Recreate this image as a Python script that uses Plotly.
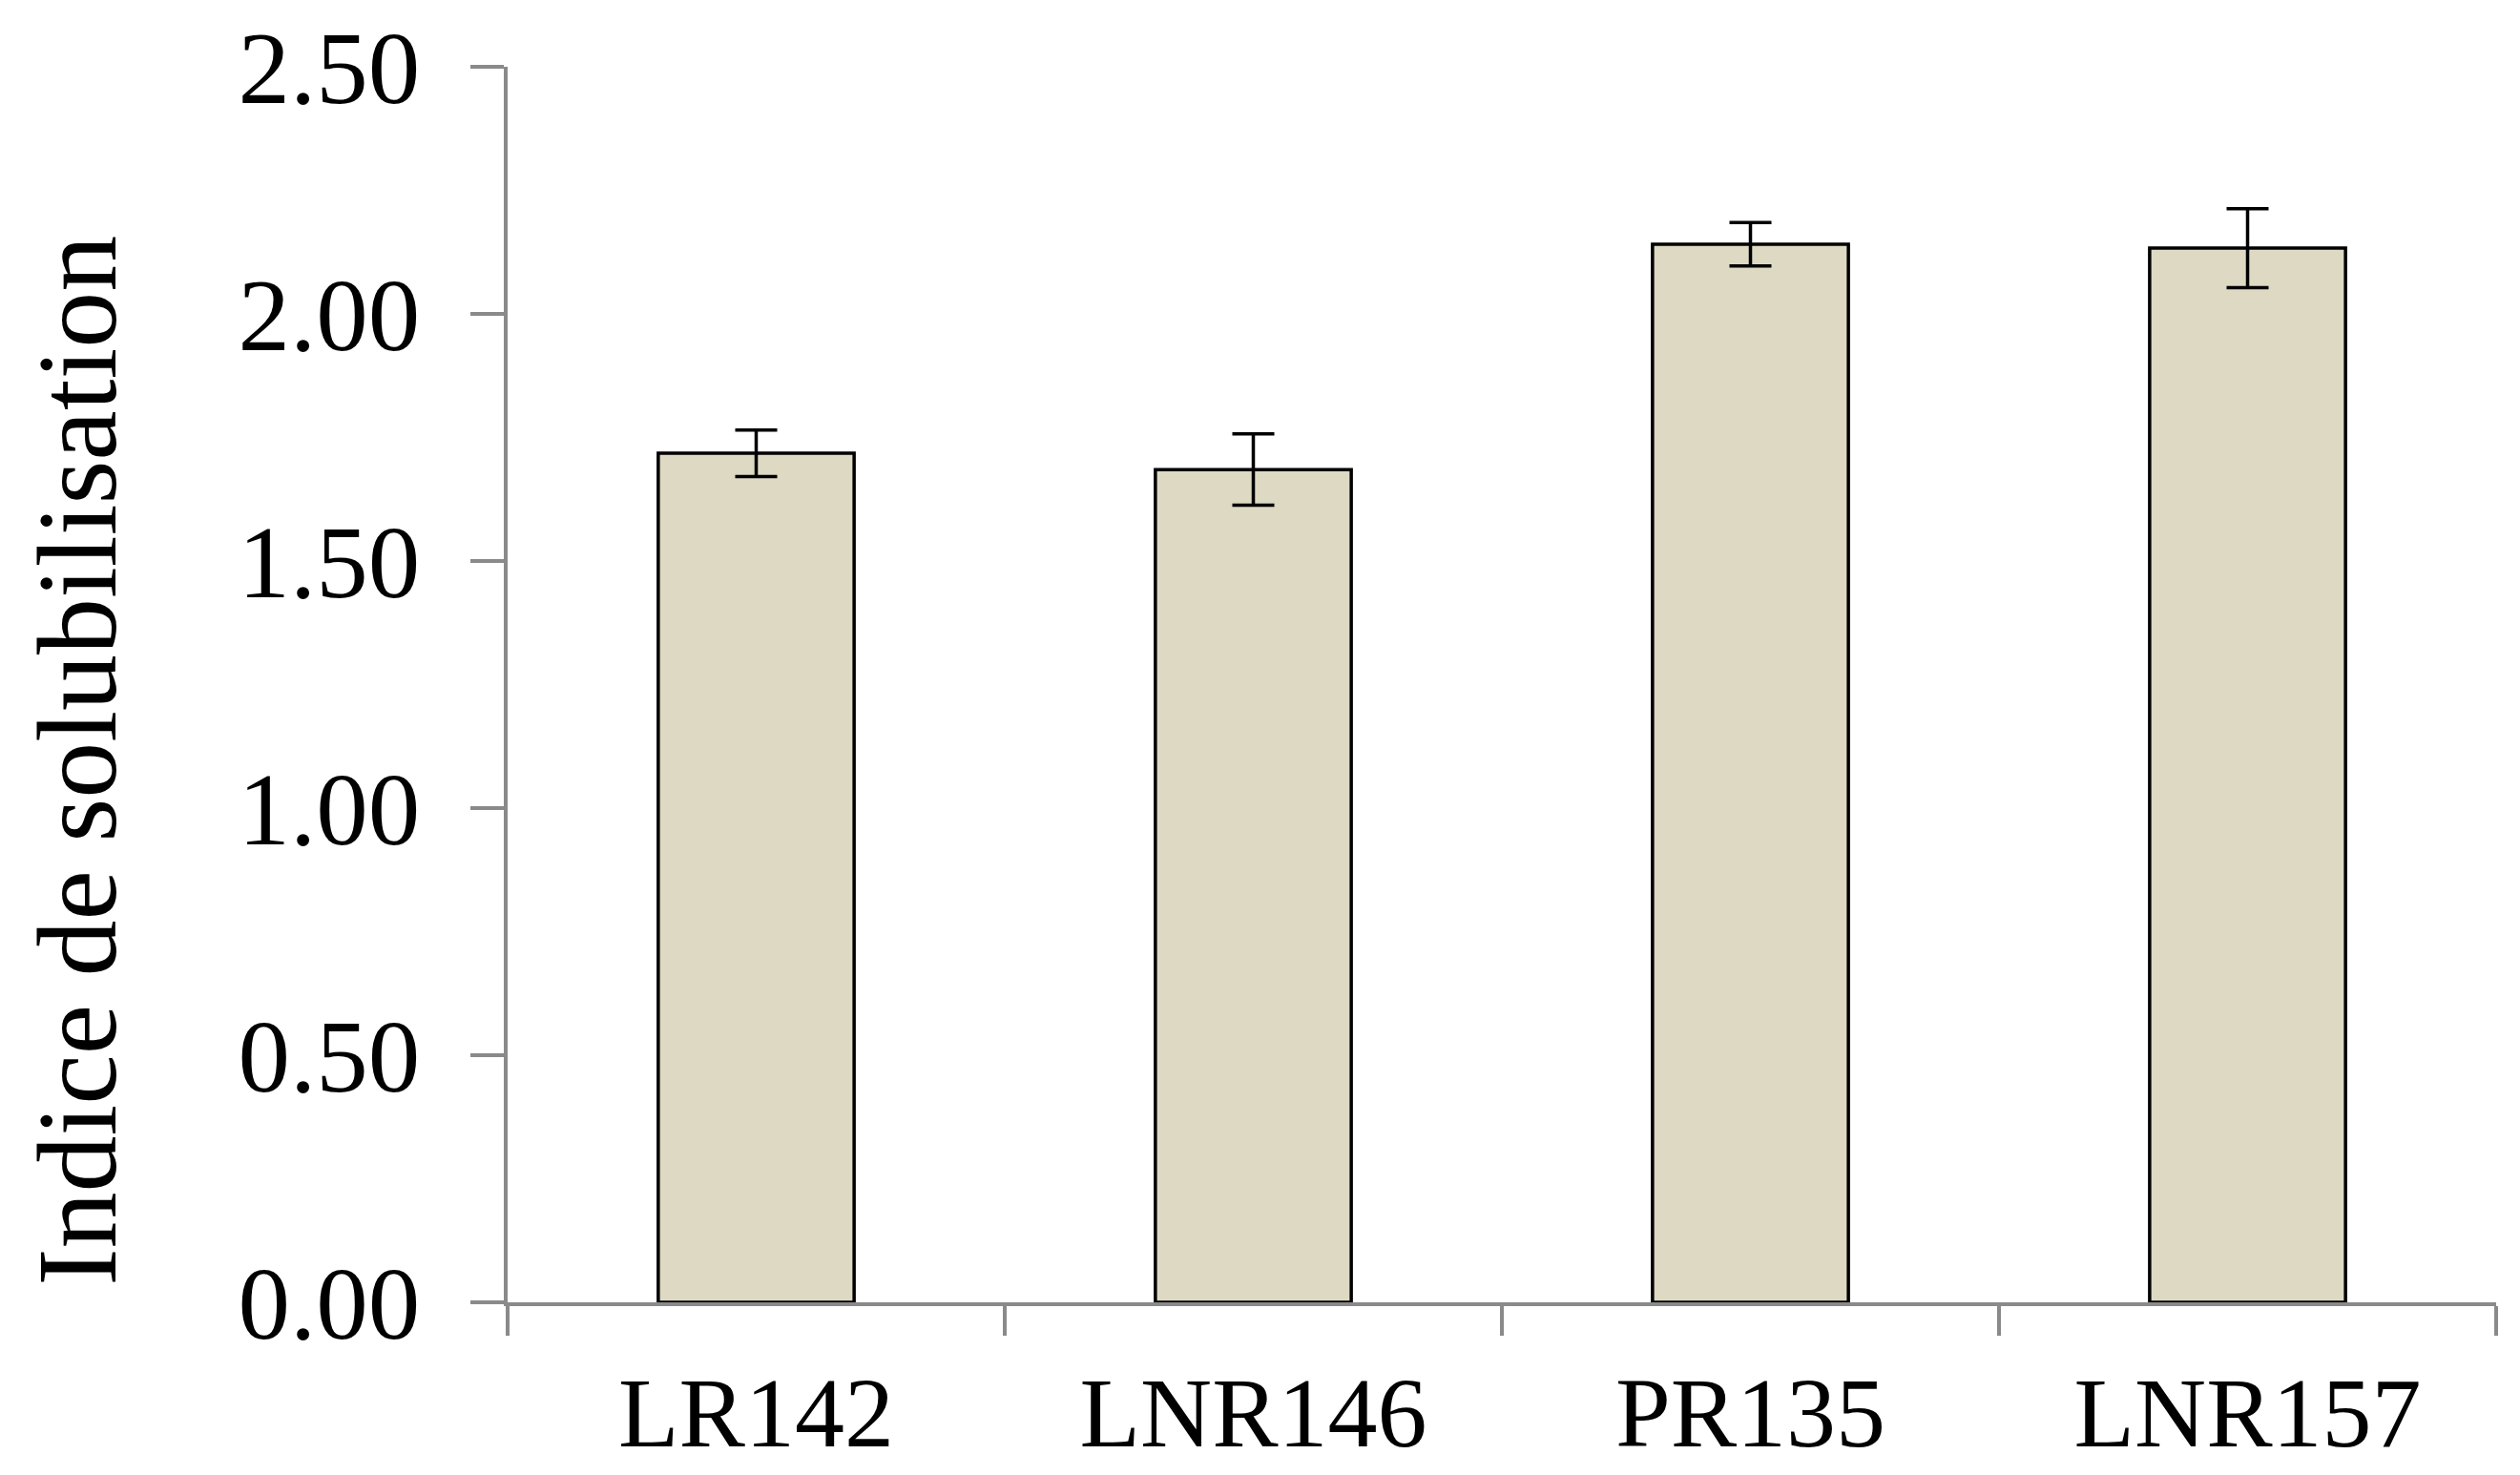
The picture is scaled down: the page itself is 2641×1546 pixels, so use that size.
import plotly.graph_objects as go

# data
souches = ["LR142", "LNR146", "PR135", "LNR157"]
indice = [1.718, 1.685, 2.141, 2.133]
erreur = [0.047, 0.072, 0.044, 0.080]
y_ticks = [0.0, 0.5, 1.0, 1.5, 2.0, 2.5]

fig = go.Figure()
fig.add_trace(go.Bar(
    x=souches, y=indice,
    marker=dict(color="#DDD9C3", line=dict(color="black", width=3.5)),
    error_y=dict(type="data", array=erreur, visible=True,
                 color="black", thickness=3.5, width=22),
))

fig.update_xaxes(
    type="category", tickson="boundaries", automargin=False,
    showline=True, linecolor="#8A8A8A", linewidth=4,
    ticks="outside", ticklen=31, tickwidth=4, tickcolor="#8A8A8A",
    tickfont=dict(family="Liberation Serif", size=104, color="black"),
    ticklabelstandoff=22,
    showgrid=False, zeroline=False,
)
fig.update_yaxes(
    range=[0, 2.5], tickvals=y_ticks, tickformat=".2f", automargin=False,
    showline=True, linecolor="#8A8A8A", linewidth=4,
    ticks="outside", ticklen=35, tickwidth=4, tickcolor="#8A8A8A",
    tickfont=dict(family="Liberation Serif", size=109, color="black"),
    ticklabelstandoff=31,
    showgrid=False, zeroline=False,
)

# y title placed as annotation to match the original position
fig.add_annotation(
    text="Indice de solubilisation", textangle=-90,
    xref="paper", yref="paper", x=-0.2165, y=0.4386,
    xanchor="center", yanchor="middle", showarrow=False,
    font=dict(family="Liberation Serif", size=118, color="black"),
)

# margins allow for the 8px default body margin of the html page
fig.update_layout(
    width=2641, height=1546,
    margin=dict(l=524, r=33, t=62, b=189),
    plot_bgcolor="white", paper_bgcolor="white",
    bargap=0.606, showlegend=False,
)

fig.write_html("out.html")
